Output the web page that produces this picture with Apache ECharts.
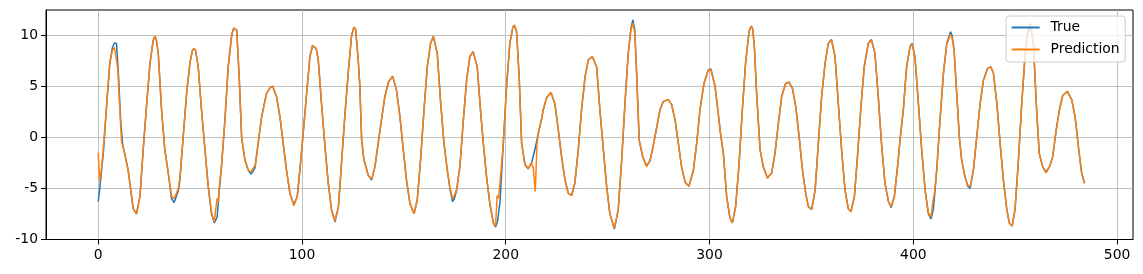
<!DOCTYPE html>
<html><head><meta charset="utf-8">
<script src="https://cdn.jsdelivr.net/npm/echarts@6/dist/echarts.min.js"></script>
<style>html,body{margin:0;padding:0;background:#fff}#c{width:1143px;height:274px}</style>
</head><body><div id="c"></div>
<script>
const seriesNames = ['True', 'Prediction'];
const xTicks = [0, 100, 200, 300, 400, 500];
const yTicks = [-10, -5, 0, 5, 10];

const truePts = [[0,-6.3],[0.8,-5.0],[1.7,-3.2],[2.5,-1.6],[4.1,3.0],[5.7,7.2],[7.0,8.8],[8.0,9.25],[9.0,9.2],[10.0,6.0],[11.0,1.8],[12.0,-0.7],[13.0,-1.6],[14.7,-3.2],[16.4,-5.8],[17.2,-7.0],[18.8,-7.5],[20.5,-5.8],[22.1,-1.2],[23.7,3.0],[25.4,7.2],[27.0,9.5],[27.8,9.9],[28.5,9.6],[29.5,8.2],[31.1,2.7],[32.7,-1.2],[34.4,-3.5],[36.0,-6.0],[37.3,-6.4],[38.0,-6.3],[39.4,-5.2],[40.1,-4.2],[41.7,0.0],[43.4,4.3],[45.0,7.25],[46.2,8.5],[47.0,8.7],[47.8,8.5],[49.1,6.9],[50.7,2.7],[52.4,-1.2],[54.0,-4.8],[55.6,-7.5],[57.0,-8.4],[57.6,-8.5],[58.4,-7.8],[59.3,-5.5],[60.5,-2.9],[62.2,1.7],[63.8,6.9],[65.5,10.0],[66.5,10.7],[67.1,10.8],[68.0,10.5],[69.2,5.9],[70.4,0.0],[72.0,-2.2],[73.6,-3.2],[74.9,-3.6],[75.8,-3.4],[76.9,-3.0],[78.5,-0.6],[80.2,2.0],[82.6,4.3],[84.5,4.9],[85.6,5.0],[87.5,4.0],[89.2,2.0],[90.8,-0.6],[92.4,-3.2],[94.1,-5.5],[96.0,-6.6],[97.7,-5.8],[99.0,-3.2],[100.6,0.4],[102.3,4.3],[103.9,7.9],[105.2,9.0],[106.0,9.1],[107.0,8.7],[108.0,7.6],[109.6,3.3],[111.3,-0.9],[112.9,-4.5],[114.5,-7.1],[116.2,-8.3],[117.9,-6.8],[119.4,-2.6],[121.0,2.0],[122.7,6.3],[124.3,9.9],[125.5,10.8],[126.3,10.6],[127.6,7.6],[128.4,5.0],[129.3,-0.3],[130.4,-2.2],[132.5,-3.7],[134.2,-4.2],[135.8,-2.9],[137.4,-0.6],[139.0,1.7],[140.7,4.0],[142.4,5.4],[144.5,6.0],[146.4,4.6],[148.1,2.0],[149.7,-1.2],[151.3,-4.2],[153.0,-6.5],[155.0,-7.5],[156.6,-6.1],[158.2,-2.2],[159.9,2.7],[161.5,6.9],[163.1,9.2],[164.5,9.9],[165.3,9.8],[166.4,8.2],[168.1,3.3],[169.7,-0.6],[171.3,-3.2],[172.6,-5.0],[173.9,-6.3],[174.8,-6.0],[175.9,-5.2],[177.5,-2.9],[179.2,1.7],[180.8,5.6],[182.4,7.9],[184.0,8.4],[184.8,8.3],[186.0,6.9],[187.6,2.7],[189.0,-0.6],[190.6,-3.9],[192.2,-6.5],[193.9,-8.4],[195.0,-8.8],[196.0,-8.2],[197.2,-6.3],[198.8,-0.6],[200.4,5.0],[202.0,9.2],[203.5,10.8],[204.2,11.0],[205.3,10.4],[206.6,5.9],[207.8,-0.6],[209.4,-2.6],[211.0,-3.1],[212.7,-2.5],[214.3,-1.2],[216.0,0.4],[217.8,2.0],[218.4,2.7],[220.1,3.9],[222.2,4.4],[224.1,3.3],[225.8,0.7],[227.4,-1.9],[229.1,-4.2],[230.7,-5.5],[232.3,-5.7],[233.9,-4.5],[235.6,-1.2],[237.2,2.7],[238.9,5.9],[240.5,7.6],[242.5,7.9],[243.2,7.8],[244.6,6.9],[246.2,2.7],[247.9,-1.2],[249.5,-4.8],[251.1,-7.5],[253.3,-9.0],[255.2,-7.1],[256.9,-2.2],[258.5,3.3],[260.1,8.2],[261.5,10.8],[262.4,11.5],[263.3,10.5],[264.0,7.5],[264.6,4.3],[265.5,-0.3],[267.2,-1.9],[269.1,-2.8],[270.8,-2.3],[272.4,-0.8],[274.1,1.0],[275.7,2.7],[277.3,3.5],[279.8,3.7],[281.4,3.2],[283.1,1.7],[284.7,-0.6],[286.3,-2.9],[288.0,-4.4],[289.9,-4.8],[292.1,-3.2],[293.7,-0.6],[295.3,2.7],[297.3,5.3],[299.4,6.6],[300.7,6.7],[302.7,5.0],[304.3,2.3],[305.3,0.5],[306.8,-1.6],[308.4,-5.8],[310.0,-7.9],[311.2,-8.4],[312.8,-6.8],[314.5,-2.6],[316.1,2.7],[317.7,7.3],[319.4,10.4],[320.5,10.9],[321.2,10.6],[322.0,8.9],[323.1,4.3],[324.8,-1.2],[326.4,-2.9],[328.4,-4.0],[330.5,-3.5],[332.1,-1.6],[333.8,1.4],[335.4,4.0],[337.4,5.3],[339.0,5.4],[340.7,4.8],[342.3,3.0],[344.0,0.0],[345.6,-3.2],[347.2,-5.5],[348.5,-6.8],[350.1,-7.1],[351.8,-5.2],[353.4,-0.6],[355.0,4.0],[356.7,7.25],[358.3,9.2],[359.8,9.6],[361.6,7.9],[363.2,3.3],[364.8,-1.2],[366.5,-5.2],[368.1,-7.0],[369.4,-7.3],[371.1,-5.8],[372.7,-1.6],[374.3,3.0],[375.9,6.9],[377.9,9.2],[379.4,9.6],[381.2,8.2],[382.9,3.7],[384.5,-0.9],[386.1,-4.5],[387.8,-6.3],[389.1,-6.9],[390.7,-5.8],[392.4,-2.6],[393.6,0.0],[395.1,2.7],[396.7,6.9],[398.4,8.9],[399.4,9.2],[400.8,7.9],[402.5,3.3],[404.1,-1.2],[405.8,-5.2],[407.4,-7.5],[408.7,-8.0],[409.8,-7.1],[410.5,-5.6],[411.5,-3.2],[413.1,1.7],[414.8,6.3],[416.4,9.2],[418.3,10.35],[419.0,10.0],[420.0,8.6],[421.3,4.3],[422.6,0.0],[423.7,-2.2],[425.4,-3.9],[426.7,-4.8],[427.9,-5.0],[429.5,-3.2],[431.1,0.0],[432.8,3.3],[434.4,5.6],[436.4,6.75],[438.0,6.9],[439.3,6.3],[441.0,3.3],[442.6,-0.6],[444.2,-4.2],[445.9,-7.1],[447.1,-8.4],[448.5,-8.7],[449.9,-7.1],[451.6,-2.2],[453.2,3.3],[454.8,7.9],[456.1,10.2],[457.5,10.9],[458.9,9.2],[460.5,2.7],[461.8,-1.6],[463.5,-2.9],[465.1,-3.4],[466.8,-2.9],[468.4,-1.9],[470.1,0.7],[471.7,2.7],[473.3,4.1],[475.6,4.5],[477.7,3.7],[479.4,2.0],[481.0,-0.9],[482.6,-3.5],[484.0,-4.5]];

const predPts = [[0,-1.5],[0.8,-4.35],[1.7,-3.0],[2.5,-1.2],[4.1,3.0],[5.7,7.4],[7.0,8.5],[8.0,8.8],[8.7,8.9],[9.6,6.8],[10.6,2.8],[11.5,-0.5],[12.3,-1.0],[13.0,-1.6],[14.7,-3.2],[16.4,-5.8],[17.2,-7.0],[18.8,-7.5],[20.5,-5.8],[22.1,-1.2],[23.7,3.0],[25.4,7.2],[27.0,9.5],[27.8,9.9],[28.5,9.6],[29.5,8.2],[31.1,2.7],[32.7,-1.2],[34.4,-3.5],[36.0,-5.8],[37.3,-6.0],[38.0,-6.0],[39.4,-5.0],[40.1,-4.0],[41.7,0.0],[43.4,4.3],[45.0,7.25],[46.2,8.5],[47.0,8.7],[47.8,8.5],[49.1,6.9],[50.7,2.7],[52.4,-1.2],[54.0,-4.8],[55.6,-7.4],[57.0,-8.3],[57.6,-8.3],[58.3,-6.0],[58.9,-6.3],[59.6,-4.5],[60.5,-2.9],[62.2,1.7],[63.8,6.9],[65.5,10.0],[66.5,10.7],[67.1,10.8],[68.0,10.5],[69.2,5.9],[70.4,0.0],[72.0,-2.2],[73.6,-3.2],[74.9,-3.4],[75.8,-3.3],[76.5,-2.9],[77.2,-2.7],[78.5,-0.6],[80.2,2.0],[82.6,4.3],[84.5,4.9],[85.6,5.0],[87.5,4.0],[89.2,2.0],[90.8,-0.6],[92.4,-3.2],[94.1,-5.5],[96.0,-6.7],[97.7,-5.8],[99.0,-3.2],[100.6,0.4],[102.3,4.3],[103.9,7.9],[105.2,9.0],[106.0,9.1],[107.0,8.7],[108.0,7.6],[109.6,3.3],[111.3,-0.9],[112.9,-4.5],[114.5,-7.1],[116.2,-8.2],[117.9,-6.8],[119.4,-2.6],[121.0,2.0],[122.7,6.3],[124.3,9.9],[125.5,10.8],[126.3,10.6],[127.6,7.6],[128.4,5.0],[129.3,-0.3],[130.4,-2.2],[132.5,-3.7],[134.2,-4.1],[135.8,-2.9],[137.4,-0.6],[139.0,1.7],[140.7,4.0],[142.4,5.4],[144.5,6.0],[146.4,4.6],[148.1,2.0],[149.7,-1.2],[151.3,-4.2],[153.0,-6.5],[155.0,-7.5],[156.6,-6.1],[158.2,-2.2],[159.9,2.7],[161.5,6.9],[163.1,9.2],[164.5,9.9],[165.3,9.8],[166.4,8.2],[168.1,3.3],[169.7,-0.6],[171.3,-3.2],[172.6,-4.9],[173.9,-6.0],[174.8,-5.7],[175.9,-5.1],[177.5,-2.9],[179.2,1.7],[180.8,5.6],[182.4,7.9],[184.0,8.4],[184.8,8.3],[186.0,6.9],[187.6,2.7],[189.0,-0.6],[190.6,-3.9],[192.2,-6.5],[193.9,-8.4],[195.0,-8.7],[195.8,-5.7],[196.5,-6.0],[197.2,-5.9],[198.8,-0.6],[200.4,5.0],[202.0,9.2],[203.5,10.8],[204.2,11.0],[205.3,10.4],[206.6,5.9],[207.8,-0.6],[209.4,-2.7],[211.0,-3.1],[212.5,-2.5],[213.5,-3.0],[214.5,-5.3],[215.3,-0.8],[216.0,0.4],[217.8,2.0],[218.4,2.7],[220.1,3.9],[222.2,4.4],[224.1,3.3],[225.8,0.7],[227.4,-1.9],[229.1,-4.2],[230.7,-5.5],[232.3,-5.7],[233.9,-4.5],[235.6,-1.2],[237.2,2.7],[238.9,5.9],[240.5,7.6],[242.5,7.9],[243.2,7.8],[244.6,6.9],[246.2,2.7],[247.9,-1.2],[249.5,-4.8],[251.1,-7.5],[253.3,-8.9],[255.2,-7.1],[256.9,-2.2],[258.5,3.3],[260.1,8.2],[261.5,10.6],[262.4,11.2],[263.3,10.2],[264.0,7.3],[264.6,4.3],[265.5,-0.3],[267.2,-1.9],[269.1,-2.9],[270.0,-2.8],[270.8,-2.2],[272.4,-0.9],[274.1,1.0],[275.7,2.7],[277.3,3.5],[279.8,3.7],[281.4,3.2],[283.1,1.7],[284.7,-0.6],[286.3,-2.9],[288.0,-4.4],[289.9,-4.8],[292.1,-3.2],[293.7,-0.6],[295.3,2.7],[297.3,5.3],[299.4,6.6],[300.7,6.6],[302.7,5.0],[304.3,2.3],[305.3,0.5],[306.8,-1.6],[308.4,-5.8],[310.0,-7.9],[311.2,-8.4],[312.8,-6.8],[314.5,-2.6],[316.1,2.7],[317.7,7.3],[319.4,10.4],[320.5,10.9],[321.2,10.6],[322.0,8.9],[323.1,4.3],[324.8,-1.2],[326.4,-2.9],[328.4,-4.0],[330.5,-3.5],[332.1,-1.6],[333.8,1.4],[335.4,4.0],[337.4,5.3],[339.0,5.4],[340.7,4.8],[342.3,3.0],[344.0,0.0],[345.6,-3.2],[347.2,-5.5],[348.5,-6.8],[350.1,-7.1],[351.8,-5.2],[353.4,-0.6],[355.0,4.0],[356.7,7.25],[358.3,9.2],[359.8,9.6],[361.6,7.9],[363.2,3.3],[364.8,-1.2],[366.5,-5.2],[368.1,-7.0],[369.4,-7.3],[371.1,-5.8],[372.7,-1.6],[374.3,3.0],[375.9,6.9],[377.9,9.2],[379.4,9.6],[381.2,8.2],[382.9,3.7],[384.5,-0.9],[386.1,-4.5],[387.8,-6.3],[389.1,-6.8],[390.7,-5.8],[392.4,-2.6],[393.6,0.0],[395.1,2.7],[396.7,6.9],[398.4,8.9],[399.4,9.1],[400.8,7.9],[402.5,3.3],[404.1,-1.2],[405.8,-5.2],[407.4,-7.4],[408.7,-7.8],[409.6,-6.3],[410.3,-5.6],[411.5,-3.2],[413.1,1.7],[414.8,6.3],[416.4,9.1],[418.3,10.1],[419.0,9.8],[420.0,8.5],[421.3,4.3],[422.6,0.0],[423.7,-2.2],[425.4,-3.9],[426.7,-4.7],[427.9,-4.8],[428.6,-4.8],[429.5,-3.2],[431.1,0.0],[432.8,3.3],[434.4,5.6],[436.4,6.75],[438.0,6.9],[439.3,6.3],[441.0,3.3],[442.6,-0.6],[444.2,-4.2],[445.9,-7.1],[447.1,-8.4],[448.5,-8.7],[449.9,-7.1],[451.6,-2.2],[453.2,3.3],[454.8,7.9],[456.1,10.5],[457.5,11.2],[458.9,9.4],[460.5,2.7],[461.8,-1.6],[463.5,-2.9],[465.1,-3.5],[466.8,-2.9],[468.4,-1.9],[470.1,0.7],[471.7,2.7],[473.3,4.1],[475.6,4.5],[477.7,3.7],[479.4,2.0],[481.0,-0.9],[482.6,-3.5],[484.0,-4.5]];

const chart = echarts.init(document.getElementById('c'), null, {renderer: 'canvas'});
const font = 'DejaVu Sans';
const fs = 13.9;
const axisCommon = {
  type: 'value',
  axisLine: {show: true, onZero: false, lineStyle: {color: '#000', width: 1}},
  axisTick: {show: true, inside: false, length: 5, lineStyle: {color: '#000', width: 1}},
  splitLine: {show: true, lineStyle: {color: '#b0b0b0', width: 0.8}},
  axisLabel: {color: '#000', fontFamily: font, fontSize: fs}
};
chart.setOption({
  animation: false,
  backgroundColor: '#fff',
  grid: {left: 46, right: 10, top: 10, bottom: 34.5, show: true, borderColor: '#000', borderWidth: 1, backgroundColor: 'transparent'},
  legend: {
    orient: 'vertical', left: 1006, top: 16,
    data: seriesNames,
    icon: 'rect', itemWidth: 28, itemHeight: 2, itemGap: 6,
    textStyle: {color: '#000', fontFamily: font, fontSize: fs, lineHeight: 16, padding: [0, 0, 0, 6]},
    backgroundColor: 'rgba(255,255,255,0.8)', borderColor: '#cccccc', borderWidth: 1, borderRadius: 3,
    padding: [3.5, 5.6, 4.5, 5.6]
  },
  xAxis: Object.assign({}, axisCommon, {
    min: -25.6, max: 507.8,
    axisTick: Object.assign({}, axisCommon.axisTick, {customValues: xTicks}),
    axisLabel: Object.assign({}, axisCommon.axisLabel, {customValues: xTicks, margin: 9})
  }),
  yAxis: Object.assign({}, axisCommon, {
    min: -10.02, max: 12.48,
    axisTick: Object.assign({}, axisCommon.axisTick, {customValues: yTicks}),
    axisLabel: Object.assign({}, axisCommon.axisLabel, {customValues: yTicks, margin: 8})
  }),
  series: [
    {name: seriesNames[0], type: 'line', data: truePts, symbol: 'none', smooth: false,
     lineStyle: {color: '#1f77b4', width: 1.5}, itemStyle: {color: '#1f77b4'}},
    {name: seriesNames[1], type: 'line', data: predPts, symbol: 'none', smooth: false,
     lineStyle: {color: '#ff7f0e', width: 1.5}, itemStyle: {color: '#ff7f0e'}}
  ]
});
</script></body></html>
